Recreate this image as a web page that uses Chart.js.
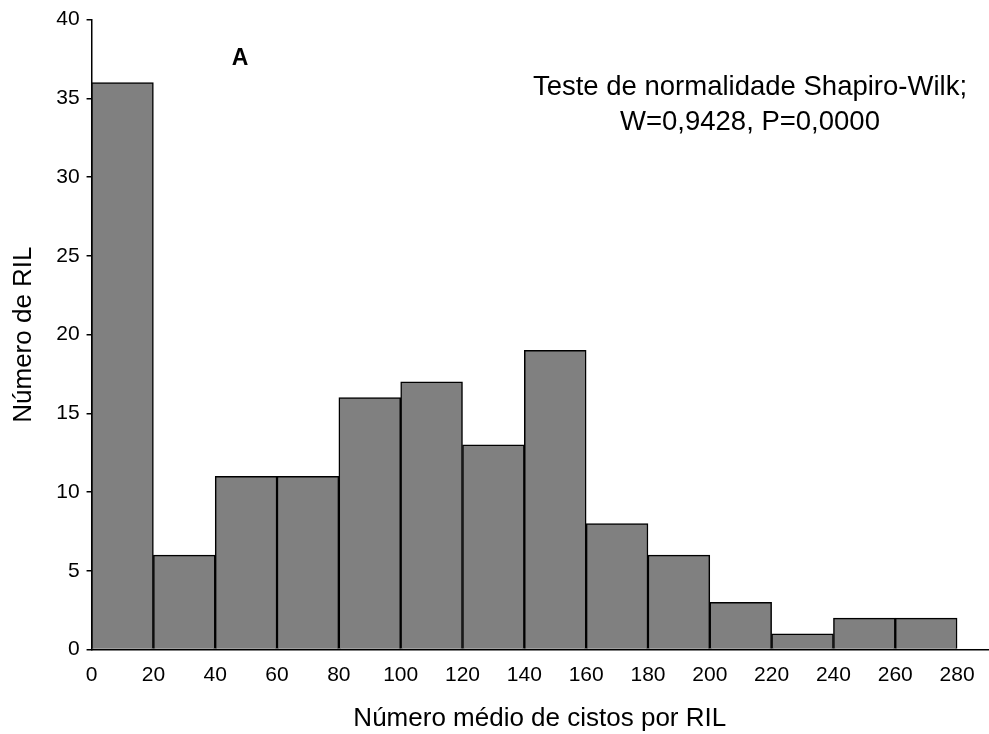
<!DOCTYPE html>
<html>
<head>
<meta charset="utf-8">
<script src="https://cdn.jsdelivr.net/npm/chart.js@4"></script>
<style>
  html, body { margin: 0; padding: 0; background: #fff; }
  #wrap { width: 989px; height: 734px; }
</style>
</head>
<body>
<div id="wrap"><canvas id="myChart"></canvas></div>
<script>
// bin centres (bins of 20) and number of RILs per bin
const binCentres = [10, 30, 50, 70, 90, 110, 130, 150, 170, 190, 210, 230, 250, 270];
const counts = [36, 6, 11, 11, 16, 17, 13, 19, 8, 6, 3, 1, 2, 2];
const panelLabel = 'A';
const testText = ['Teste de normalidade Shapiro-Wilk;', 'W=0,9428, P=0,0000'];

const points = [];
for (let i = 0; i < binCentres.length; i++) {
  points.push({ x: binCentres[i], y: counts[i] });
}

const font = 'Liberation Sans, Arial, sans-serif';

const notes = {
  id: 'notes',
  afterDraw(chart) {
    const c = chart.ctx;
    const xs = chart.scales.x, ys = chart.scales.y;
    c.save();
    c.fillStyle = '#000';
    c.textAlign = 'center';
    c.textBaseline = 'middle';
    c.font = 'bold 23px ' + font;
    c.fillText(panelLabel, xs.getPixelForValue(48), ys.getPixelForValue(37.5));
    c.font = '27.5px ' + font;
    c.fillText(testText[0], xs.getPixelForValue(213), ys.getPixelForValue(35.7));
    c.fillText(testText[1], xs.getPixelForValue(213), ys.getPixelForValue(33.45));
    c.restore();
  }
};

const ctx = document.getElementById('myChart');

new Chart(ctx, {
  type: 'bar',
  data: {
    datasets: [{
      data: points,
      backgroundColor: '#808080',
      borderColor: '#000',
      borderWidth: 1.5,
      barPercentage: 1,
      categoryPercentage: 1
    }]
  },
  options: {
    responsive: true,
    maintainAspectRatio: false,
    animation: false,
    layout: { padding: { top: 8, right: 1, left: 0, bottom: 0 } },
    plugins: {
      legend: { display: false },
      tooltip: { enabled: false }
    },
    scales: {
      x: {
        type: 'linear',
        offset: false,
        min: 0,
        max: 290,
        grid: { display: false },
        border: { display: true, color: '#000', width: 1.5 },
        ticks: {
          stepSize: 20,
          includeBounds: false,
          color: '#000',
          font: { family: font, size: 21 },
          maxRotation: 0,
          autoSkip: false,
          padding: 5
        },
        title: {
          display: true,
          text: 'Número médio de cistos por RIL',
          color: '#000',
          font: { family: font, size: 26 },
          padding: { top: 10, bottom: 0 }
        }
      },
      y: {
        min: 0,
        max: 40,
        grid: { drawOnChartArea: false, drawTicks: true, tickLength: 5, color: '#000', lineWidth: 1.5 },
        border: { display: true, color: '#000', width: 1.5 },
        ticks: {
          stepSize: 5,
          color: '#000',
          font: { family: font, size: 21 },
          padding: 7
        },
        title: {
          display: true,
          text: 'Número de RIL',
          color: '#000',
          font: { family: font, size: 26 },
          padding: { top: 8, bottom: 10 }
        }
      }
    }
  },
  plugins: [notes]
});
</script>
</body>
</html>
